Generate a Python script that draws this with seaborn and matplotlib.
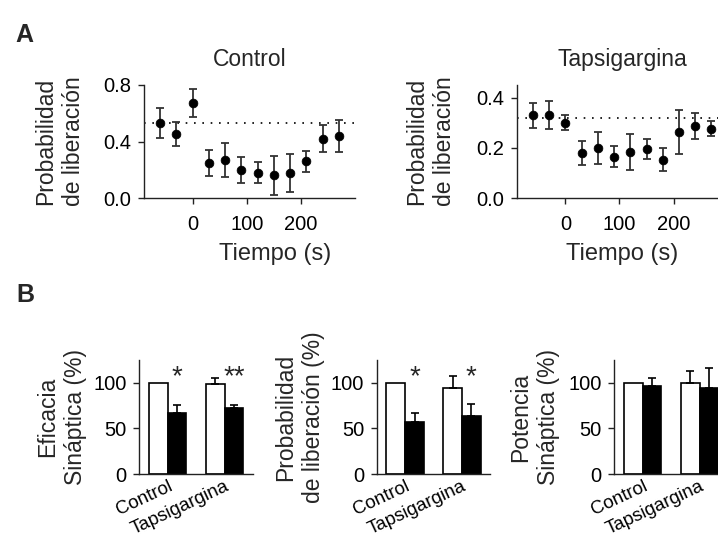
import numpy as np
import pandas as pd
import seaborn as sns
import matplotlib
matplotlib.use("Agg")
import matplotlib.pyplot as plt

# --- panel A data: release probability over time ---
tiempo = [-60, -30, 0, 30, 60, 90, 120, 150, 180, 210, 240, 270]
ctrl_mean = [0.53, 0.45, 0.67, 0.25, 0.27, 0.20, 0.18, 0.16, 0.18, 0.26, 0.42, 0.44]
ctrl_err = [0.105, 0.085, 0.10, 0.093, 0.118, 0.093, 0.075, 0.137, 0.135, 0.075, 0.097, 0.112]
ctrl_base = 0.53
tap_mean = [0.33, 0.33, 0.30, 0.18, 0.20, 0.165, 0.183, 0.194, 0.153, 0.263, 0.288, 0.275]
tap_err = [0.05, 0.057, 0.03, 0.047, 0.063, 0.043, 0.073, 0.039, 0.047, 0.087, 0.052, 0.03]
tap_base = 0.32

# --- panel B data: normalized bars (pre = white, post = black) ---
grupos = ["Control", "Tapsigargina"]
efic_pre, efic_pre_err = [100, 99], [0, 6]
efic_post, efic_post_err = [67, 72], [9, 4]
prob_pre, prob_pre_err = [100, 94], [0, 13.5]
prob_post, prob_post_err = [57, 64], [10, 13]
pot_pre, pot_pre_err = [100, 100], [0, 13]
pot_post, pot_post_err = [96, 94], [9, 22]
efic_stars = ["*", "**"]
prob_stars = ["*", "*"]
pot_stars = ["", ""]

sns.set_style("ticks")
plt.rcParams['font.family'] = ['Liberation Sans', 'DejaVu Sans']
plt.rcParams['font.size'] = 16.5
plt.rcParams['axes.edgecolor'] = '#222222'
plt.rcParams['xtick.color'] = '#222222'
plt.rcParams['ytick.color'] = '#222222'
plt.rcParams['xtick.labelcolor'] = 'black'
plt.rcParams['ytick.labelcolor'] = 'black'
plt.rcParams['axes.linewidth'] = 1.0

fig = plt.figure(figsize=(7.18, 5.38), dpi=100)

W = 718.0
H = 538.0
TICK_FS = 14.5


def axes_px(x0, x1, ytop, ybot):
    return fig.add_axes([x0 / W, 1 - ybot / H, (x1 - x0) / W, (ybot - ytop) / H])


def time_panel(ax, mean, err, base, title, ymax, yticks, ylab_x, xlab_x):
    df = pd.DataFrame({"t": tiempo, "p": mean})
    ax.errorbar(tiempo, mean, yerr=err, fmt="none", ecolor="#333333",
                elinewidth=1.3, capsize=3, capthick=1.3, zorder=2)
    sns.scatterplot(data=df, x="t", y="p", ax=ax, color="black", s=40,
                    edgecolor="black", zorder=3, legend=False)
    ax.axhline(base, color="black", ls=(0, (1, 4)), lw=1.2, zorder=1)
    ax.set_xlim(-90, 300)
    ax.set_ylim(0, ymax)
    ax.set_xticks([0, 100, 200])
    ax.set_yticks(yticks)
    ax.set_yticklabels([f"{v:.1f}" for v in yticks])
    ax.tick_params(axis="y", length=4, width=1, pad=5, labelsize=TICK_FS)
    ax.tick_params(axis="x", length=4, width=1, pad=8, labelsize=TICK_FS)
    ax.set_title(title, pad=14, fontsize=16.5)
    ax.set_xlabel("Tiempo (s)", fontsize=17)
    ax.set_ylabel("Probabilidad\nde liberación", linespacing=1.25)
    ax.xaxis.set_label_coords(xlab_x, -0.40)
    ax.yaxis.set_label_coords(ylab_x, 0.5)
    sns.despine(ax=ax)


axA1 = axes_px(144, 355, 85, 198)
time_panel(axA1, ctrl_mean, ctrl_err, ctrl_base, "Control", 0.8,
           [0.0, 0.4, 0.8], -0.28, 0.62)
axA2 = axes_px(516.7, 727.7, 85, 198)
time_panel(axA2, tap_mean, tap_err, tap_base, "Tapsigargina", 0.45,
           [0.0, 0.2, 0.4], -0.29, 0.50)


def bar_panel(ax, pre, pre_err, post, post_err, stars, ylabel, ylab_x):
    df = pd.DataFrame({
        "grupo": grupos * 2,
        "cond": ["pre"] * 2 + ["post"] * 2,
        "valor": list(pre) + list(post),
    })
    sns.barplot(data=df, x="grupo", y="valor", hue="cond", ax=ax,
                order=grupos, hue_order=["pre", "post"],
                palette={"pre": "white", "post": "black"}, saturation=1,
                width=0.66, gap=0, edgecolor="black", linewidth=1.2,
                errorbar=None, legend=False)
    errs = list(pre_err) + list(post_err)
    for patch, e in zip(ax.patches, errs):
        if e <= 0:
            continue
        xc = patch.get_x() + patch.get_width() / 2
        ax.errorbar([xc], [patch.get_height()], yerr=[[0], [e]], fmt="none",
                    ecolor="black", elinewidth=1.2, capsize=3, capthick=1.2,
                    zorder=1)
    post_patches = ax.patches[2:4]
    for patch, s in zip(post_patches, stars):
        if s:
            xc = patch.get_x() + patch.get_width() / 2
            ax.text(xc, 92, s, ha="center", va="bottom", fontsize=20)
    ax.set_xlim(-0.5, 1.5)
    ax.set_ylim(0, 125)
    ax.set_yticks([0, 50, 100])
    ax.tick_params(axis="y", length=4, width=1, pad=5, labelsize=TICK_FS)
    ax.tick_params(axis="x", length=0, pad=3)
    ax.set_xticks([0, 1])
    ax.set_xticklabels(grupos, rotation=25, ha="right", va="top",
                       rotation_mode="anchor", fontsize=13.5)
    ax.set_xlabel("")
    ax.set_ylabel(ylabel, linespacing=1.25)
    ax.yaxis.set_label_coords(ylab_x, 0.5)
    sns.despine(ax=ax)


axB1 = axes_px(139.3, 253, 360, 474)
bar_panel(axB1, efic_pre, efic_pre_err, efic_post, efic_post_err, efic_stars,
          "Eficacia\nSináptica (%)", -0.46)
axB2 = axes_px(376.7, 490.4, 360, 474)
bar_panel(axB2, prob_pre, prob_pre_err, prob_post, prob_post_err, prob_stars,
          "Probabilidad\nde liberación (%)", -0.455)
axB3 = axes_px(614.3, 728, 360, 474)
bar_panel(axB3, pot_pre, pot_pre_err, pot_post, pot_post_err, pot_stars,
          "Potencia\nSináptica (%)", -0.48)

fig.text(15 / W, 1 - 42 / H, "A", fontsize=18, fontweight="bold", va="baseline")
fig.text(16 / W, 1 - 302 / H, "B", fontsize=18, fontweight="bold", va="baseline")

fig.savefig("out.png", dpi=100)
